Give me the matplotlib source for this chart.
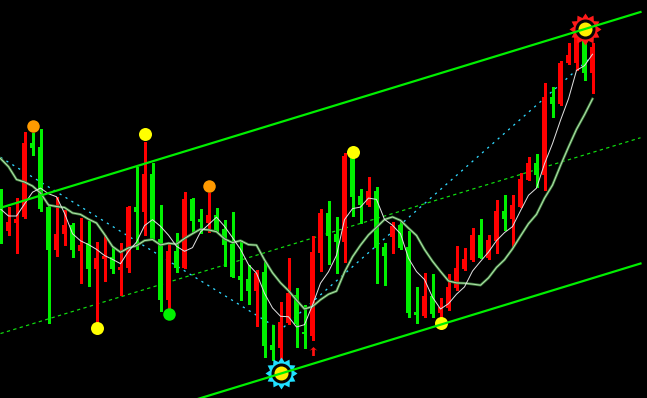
import numpy as np
import pandas as pd
import matplotlib
matplotlib.use("Agg")
import matplotlib.pyplot as plt
from matplotlib.path import Path

plt.rcParams['lines.scale_dashes'] = False

# ---------------- data (price units) ----------------
opens = [209, 169, 177, 183.3, 257.3, 253.3, 193.3, 150, 166, 175,
         149.3, 156.7, 130.7, 141, 143.3, 130, 131.7, 193.3, 188.3, 226.2,
         161, 100, 149, 132.5, 201, 180.7, 176.7, 185.5, 171, 156,
         124, 121, 109, 128.3, 55, 51.7, 76.7, 105, 67.7, 64.3,
         147.3, 187.3, 166, 158.3, 241.7, 204, 195, 209, 153.3, 163.3,
         175, 153.3, 88.3, 84, 104, 86.7, 91.7, 111.7, 130.7, 140,
         165, 141.7, 159.3, 189.3, 181, 193.3, 220, 237.3, 225, 302.7,
         296, 336.7, 337.3, 361, 327]
highs = [211, 193.3, 202, 268.3, 267, 271, 194, 203.3, 190, 176.7,
         182, 179.5, 158.3, 165, 153, 157, 194, 233.3, 258.3, 236.7,
         195, 156, 166.7, 208.3, 201.7, 190.8, 207, 191.7, 180, 188.3,
         160, 135, 130.5, 138, 75, 98.3, 141.7, 111.7, 95, 164,
         190.7, 199, 183, 246.7, 250, 210.7, 223, 213, 156.7, 178.3,
         178.3, 169.5, 113, 126.7, 126, 101.7, 126, 154, 151.7, 171.7,
         180.7, 165, 200, 205, 205, 226.7, 243.3, 246, 316.7, 312.7,
         339.5, 356.7, 372, 373, 357]
lows = [157, 165, 147.3, 182, 245, 189, 77, 144.3, 155, 143.3,
        117, 114, 78.3, 119.5, 126.7, 105, 128, 151, 165, 160,
        89, 91.7, 128.3, 132.5, 168.3, 167.3, 168, 169.5, 133.7, 122.7,
        100, 96.3, 74.5, 43.3, 40, 40, 76.5, 53.3, 51.7, 60,
        129.5, 136, 126.7, 138.3, 184, 177, 194.5, 117, 115, 147.5,
        151.5, 83, 76.7, 83.5, 83.3, 81.7, 90, 110, 130, 139.3,
        141.7, 140.7, 147.3, 170, 154, 193.3, 220, 212.7, 210, 283.3,
        295, 336.5, 330, 320, 307]
closes = [170, 178.3, 181, 257.3, 252.3, 190.7, 150, 166, 175, 150,
          155, 131, 142.3, 144, 131, 133.3, 193.3, 188, 226.2, 161,
          100, 149, 132.5, 201, 179.3, 178.5, 185.5, 170, 155, 123,
          120, 109, 127.3, 54, 50, 78.3, 106.7, 76, 65.7, 148.3,
          187.3, 164, 158.3, 244, 203.3, 195, 209, 151.7, 144, 174,
          152.5, 86.7, 85, 104, 86, 93.3, 113.3, 132.3, 140.7, 165,
          141.7, 160, 189.3, 181, 195, 221, 237.3, 225, 302.7, 296,
          337.5, 345, 366.7, 326.7, 353]

fast_ma_head = [191, 184, 184, 196]                                      # MA(5)
slow_ma_head = [241.5, 233.3, 220.5, 218, 214, 207, 195, 193.5, 192.5]   # MA(10)

# regression channel (bar index, upper price); lower/middle offsets
channel_bars = [0, 80]
channel_upper = [192.2, 388.0]
channel_width = 251.5

# cyan zigzag
zigzag_bars = [0, 35, 74]
zigzag_prices = [242.7, 70.0, 344.0]

# signals
orange_bars, orange_prices = [4, 26], [274, 214]
yellow_bars, yellow_prices = [18, 44, 12, 55], [265.7, 248.3, 72.3, 76.7]
green_bars, green_prices = [21], [85.7]
arrow_bars, arrow_prices = [39], [49]
sun_low_bar, sun_low_price = 35, 26.7
sun_high_bar, sun_high_price = 73, 371.0

# ---------------- figure ----------------
W, H = 647, 398
fig = plt.figure(figsize=(W / 100, H / 100), dpi=100, facecolor='black')
ax = fig.add_axes([0, 0, 1, 1])
ax.set_facecolor('black')
ax.set_xlim(-0.0625, 80.8125)
ax.set_ylim(2, 400)
ax.axis('off')

RED = '#ff0000'
GRN = '#00f000'
px = 0.72  # points per pixel

n = len(closes)
x = np.arange(n)
o = np.array(opens); h = np.array(highs); l = np.array(lows); c = np.array(closes)
up = c >= o
cols = np.where(up, RED, GRN)

# middle dashed channel line & cyan zigzag (background)
cb = np.array(channel_bars, float)
cu = np.array(channel_upper)
ax.plot(cb, cu - channel_width / 2, color='#10e010', lw=1.2 * px,
        ls=(0, (2.4, 2.4)), zorder=1)
ax.plot(zigzag_bars, zigzag_prices, color='#30d8ff', lw=1.3 * px,
        ls=(0, (1.6, 3.4)), zorder=1)

# candles
ax.vlines(x, l, h, colors=cols, lw=1.1 * px, antialiased=False, zorder=3)
ax.bar(x, np.abs(c - o), bottom=np.minimum(o, c), width=0.625,
       color=cols, edgecolor='none', antialiased=False, zorder=3)

# moving averages
s = pd.Series(c)
fast = s.rolling(5).mean().to_numpy()
fast[:len(fast_ma_head)] = fast_ma_head
slow = s.rolling(10).mean().to_numpy()
slow[:len(slow_ma_head)] = slow_ma_head
ax.plot(x, slow, color='#3f7f3f', lw=2.6 * px, zorder=4, solid_joinstyle='round')
ax.plot(x, slow, color='#b4e2ac', lw=1.0 * px, zorder=4.1)
ax.plot(x, fast, color='#e0e0e0', lw=1.0 * px, zorder=4.2)

# dots
ax.plot(orange_bars, orange_prices, 'o', ms=12.5 * px, color='#ff9a00', mec='none', zorder=5)
ax.plot(yellow_bars, yellow_prices, 'o', ms=13 * px, color='#ffff00', mec='none', zorder=5)
ax.plot(green_bars, green_prices, 'o', ms=12.5 * px, color='#00f000', mec='none', zorder=5)

# arrow marker
arrow = Path([(0, 1), (0.9, 0.15), (0.3, 0.45), (0.3, -1), (-0.3, -1),
              (-0.3, 0.45), (-0.9, 0.15), (0, 1)], closed=True)
ax.plot(arrow_bars, arrow_prices, marker=arrow, ls='none', ms=9 * px,
        color='#ff1010', mec='none', zorder=5)

# suns
def star(npts, inner):
    a = np.linspace(0, 2 * np.pi, 2 * npts, endpoint=False) + np.pi / 2
    r = np.tile([1.0, inner], npts)
    v = np.column_stack([r * np.cos(a), r * np.sin(a)])
    v = np.vstack([v, v[:1]])
    return Path(v, closed=True)

sun = star(12, 0.74)
for bx, by, col in [(sun_low_bar, sun_low_price, '#20e0ff'),
                    (sun_high_bar, sun_high_price, '#ff1a1a')]:
    ax.plot([bx], [by], marker=sun, ls='none', ms=32 * px, color=col, mec='none', zorder=6)
    ax.plot([bx], [by], 'o', ms=20 * px, color='#050505', mec='none', zorder=6.1)
    ax.plot([bx], [by], 'o', ms=14 * px, color='#ffee00', mec='none', zorder=6.2)

# channel borders
ax.plot(cb, cu, color=GRN, lw=2.2 * px, zorder=7)
ax.plot(cb, cu - channel_width, color=GRN, lw=2.2 * px, zorder=7)

fig.savefig('out.png', dpi=100, facecolor='black')
